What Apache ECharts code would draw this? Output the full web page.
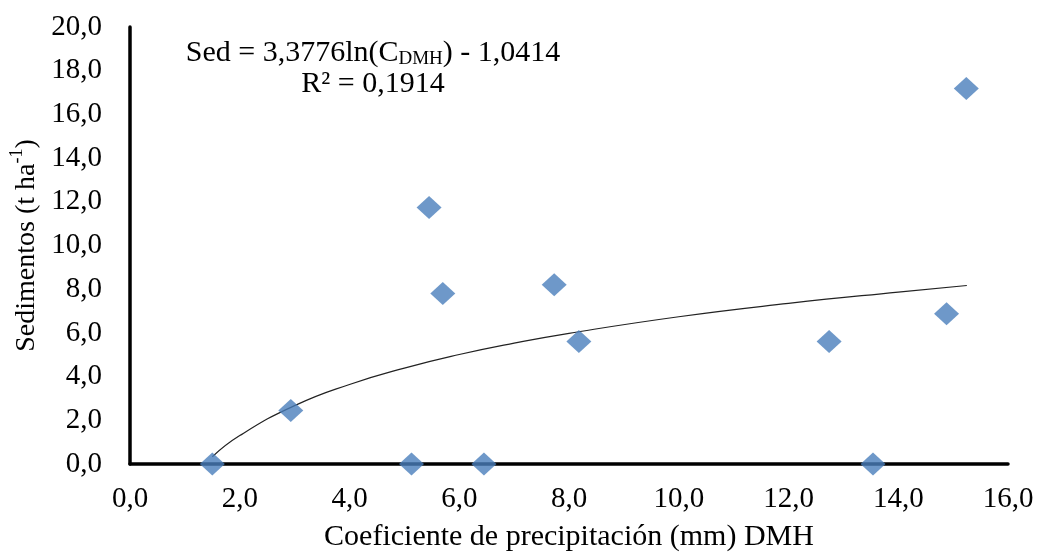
<!DOCTYPE html>
<html>
<head>
<meta charset="utf-8">
<script src="https://cdn.jsdelivr.net/npm/echarts@6/dist/echarts.min.js"></script>
<style>
  html, body { margin: 0; padding: 0; background: #fff; }
  #chart { width: 1042px; height: 557px; }
</style>
</head>
<body>
<div id="chart"></div>
<script>
// Observed points (Coeficiente de precipitación DMH, Sedimentos t/ha)
const coefDMH    = [1.50, 2.93, 5.13, 6.45, 5.45, 5.70, 7.73, 8.18, 12.74, 14.88, 13.54, 15.24];
const sedimentos = [0.00, 2.45, 0.00, 0.00, 11.74, 7.80, 8.20, 5.61, 5.61, 6.88, 0.00, 17.19];

// Trend curve
const trendX = [1.50, 2.0, 3.0, 4.0, 5.0, 6.0, 7.0, 8.0, 10.0, 12.0, 14.0, 15.25];
const trendY = [0.33, 1.30, 2.67, 3.64, 4.39, 5.01, 5.53, 5.98, 6.74, 7.35, 7.87, 8.17];

// Axis ticks
const xTicks = { min: 0, max: 16, interval: 2 };
const yTicks = { min: 0, max: 20, interval: 2 };

const FONT = '"Liberation Serif", "Times New Roman", serif';
const fmt = v => v.toFixed(1).replace('.', ',');

const chart = echarts.init(document.getElementById('chart'), null, { renderer: 'canvas' });

const scatterData = coefDMH.map((x, i) => [x, sedimentos[i]]);
const trendData = trendX.map((x, i) => [x, trendY[i]]);

chart.setOption({
  animation: false,
  backgroundColor: '#ffffff',
  grid: { left: 130, width: 878, top: 27, height: 443, containLabel: false },
  xAxis: {
    type: 'value',
    min: xTicks.min, max: xTicks.max, interval: xTicks.interval,
    axisLine: { show: true, lineStyle: { color: '#000', width: 3.5 } },
    axisTick: { show: false },
    splitLine: { show: false },
    axisLabel: { formatter: fmt, fontFamily: FONT, fontSize: 29, color: '#000', margin: 21 },
    name: 'Coeficiente de precipitación (mm) DMH',
    nameLocation: 'middle',
    nameGap: 58,
    nameTextStyle: { fontFamily: FONT, fontSize: 30, color: '#000' }
  },
  yAxis: {
    type: 'value',
    min: yTicks.min, max: yTicks.max, interval: yTicks.interval,
    axisLine: { show: true, lineStyle: { color: '#000', width: 3.5 } },
    axisTick: { show: false },
    splitLine: { show: false },
    axisLabel: { formatter: fmt, fontFamily: FONT, fontSize: 29, color: '#000', margin: 28 },
    name: '{a|Sedimentos (t ha}{s|-1}{a|)}',
    nameLocation: 'middle',
    nameGap: 89,
    nameRotate: 90,
    nameTextStyle: {
      fontFamily: FONT, fontSize: 28, color: '#000',
      rich: {
        a: { fontFamily: FONT, fontSize: 28, color: '#000', lineHeight: 32, verticalAlign: 'bottom' },
        s: { fontFamily: FONT, fontSize: 18, color: '#000', lineHeight: 32, verticalAlign: 'top', padding: [0, 0, 10, 0] }
      }
    }
  },
  series: [
    {
      type: 'line',
      data: trendData,
      smooth: true,
      showSymbol: false,
      symbol: 'none',
      lineStyle: { color: '#222', width: 1.2 },
      z: 1
    },
    {
      type: 'scatter',
      data: scatterData,
      symbol: 'diamond',
      symbolSize: [25, 23],
      itemStyle: { color: '#4A7EBB' },
      z: 3
    }
  ],
  graphic: [
    {
      type: 'text',
      x: 373, y: 53,
      style: {
        text: '{a|Sed = 3,3776ln(C}{s|DMH}{a|) - 1,0414}',
        align: 'center', verticalAlign: 'middle',
        rich: {
          a: { fontFamily: FONT, fontSize: 30, fill: '#000', lineHeight: 32, verticalAlign: 'middle' },
          s: { fontFamily: FONT, fontSize: 19, fill: '#000', lineHeight: 32, verticalAlign: 'bottom', padding: [12, 0, 0, 0] }
        }
      }
    },
    {
      type: 'text',
      x: 373, y: 84,
      style: {
        text: 'R² = 0,1914',
        align: 'center', verticalAlign: 'middle',
        font: '30px ' + FONT,
        fill: '#000'
      }
    }
  ]
});
</script>
</body>
</html>
